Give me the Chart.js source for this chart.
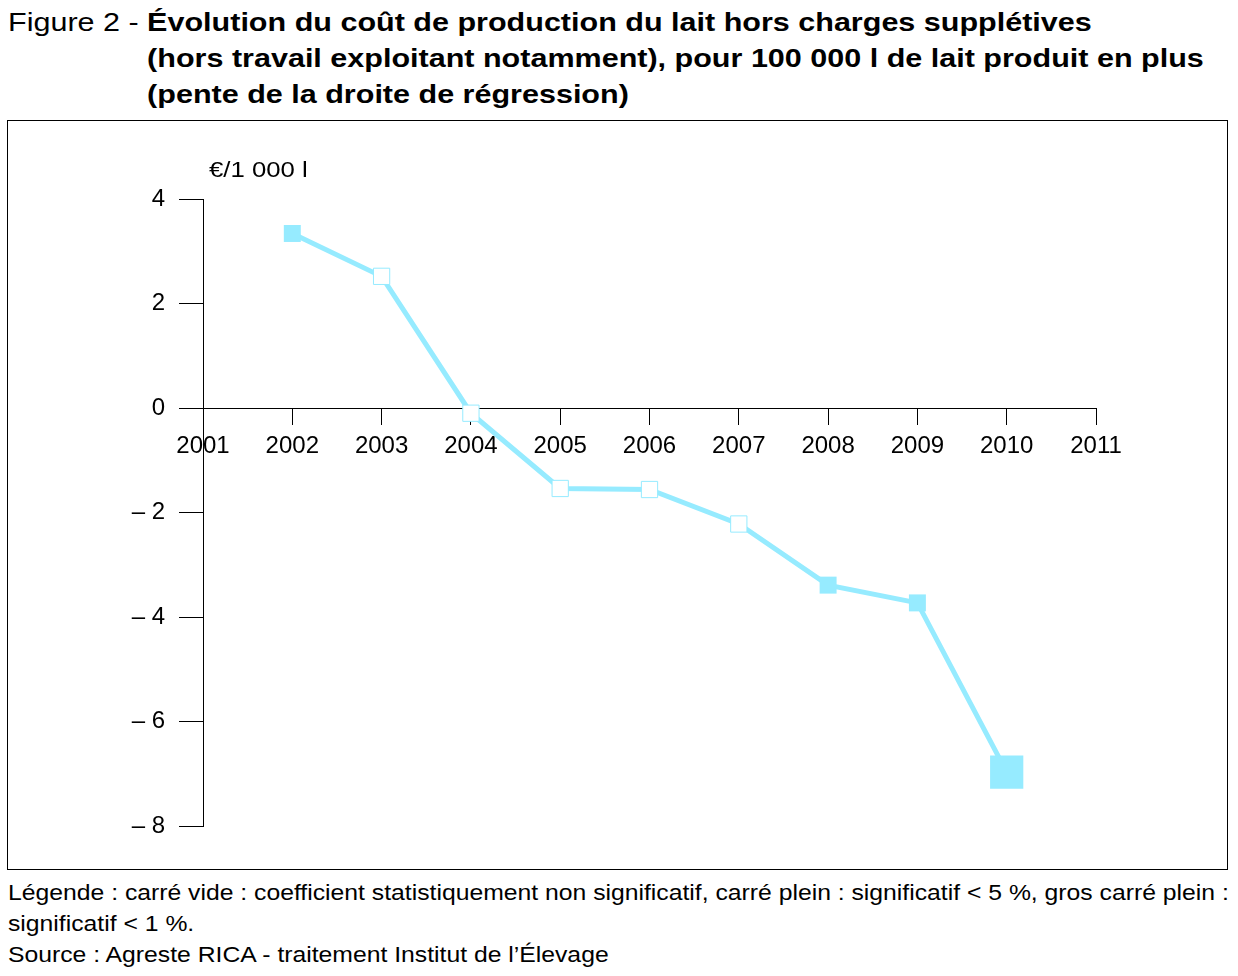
<!DOCTYPE html>
<html lang="fr">
<head>
<meta charset="utf-8">
<title>Figure 2</title>
<script src="https://cdn.jsdelivr.net/npm/chart.js@4/dist/chart.umd.min.js"></script>
<style>
    body { margin:0; background:#fff; font-family:"Liberation Sans", Arial, sans-serif; color:#000; }
    #titleBlock { position:absolute; left:8px; top:4px; display:flex; font-size:26px; line-height:36px; white-space:nowrap;
                  transform:scaleX(1.174); transform-origin:0 0; }
    #titleBlock b { display:block; }
    #chartBox { position:absolute; left:7px; top:120px; width:1219px; height:748px; border:1px solid #000; }
    #footer { position:absolute; left:8px; top:877px; font-size:22px; line-height:31px; white-space:nowrap;
              transform:scaleX(1.124); transform-origin:0 0; }
</style>
</head>
<body>
<div id="titleBlock">
    <span>Figure 2 -&nbsp;</span>
    <b>Évolution du coût de production du lait hors charges supplétives<br>(hors travail exploitant notamment), pour 100 000 l de lait produit en plus<br>(pente de la droite de régression)</b>
</div>
<div id="chartBox"><canvas id="myChart"></canvas></div>
<div id="footer">Légende : carré vide : coefficient statistiquement non significatif, carré plein : significatif &lt; 5 %, gros carré plein :<br>significatif &lt; 1 %.<br>Source : Agreste RICA - traitement Institut de l’Élevage</div>

<script>
document.addEventListener('DOMContentLoaded', createChart);

// data
let years = [2002, 2003, 2004, 2005, 2006, 2007, 2008, 2009, 2010];
let slopes = [3.34, 2.52, -0.10, -1.54, -1.56, -2.22, -3.39, -3.73, -6.97];
// 0 = carré vide, 1 = carré plein (< 5 %), 2 = gros carré plein (< 1 %)
let significance = [1, 0, 0, 0, 0, 0, 1, 1, 2];
let xTicks = [2001, 2002, 2003, 2004, 2005, 2006, 2007, 2008, 2009, 2010, 2011];
let yTicks = [-8, -6, -4, -2, 0, 2, 4];
let unitLabel = '€/1 000 l';

let cyan = 'rgb(150,235,255)';

function minusLabel(v){
    if (v < 0) return '\u2013 ' + Math.abs(v);
    return String(v);
}

let unitPlugin = {
    id: 'unitLabel',
    afterDraw(chart){
        let ctx = chart.ctx;
        let y = chart.scales.y;
        ctx.save();
        ctx.translate(chart.chartArea.left + 6, y.getPixelForValue(4) - 28);
        ctx.scale(1.17, 1);
        ctx.font = '22px "Liberation Sans", Arial, sans-serif';
        ctx.fillStyle = '#000';
        ctx.textBaseline = 'middle';
        ctx.fillText(unitLabel, 0, 0);
        ctx.restore();
    }
};

function createChart(){
    let points = years.map((yr, i) => ({x: yr, y: slopes[i]}));
    let fills = significance.map(s => s === 0 ? '#fff' : cyan);
    let radii = significance.map(s => s === 2 ? 23.5 : (s === 1 ? 12 : 11.5));
    let borders = significance.map(s => s === 0 ? 1 : 0);

    let data = {
        datasets:[{
            data: points,
            borderColor: cyan,
            borderWidth: 5,
            pointStyle: 'rect',
            pointBackgroundColor: fills,
            pointBorderColor: cyan,
            pointBorderWidth: borders,
            pointRadius: radii,
            tension: 0
        }]
    };

    let config = {
        type: 'line',
        data: data,
        plugins: [unitPlugin],
        options: {
            animation: false,
            responsive: true,
            maintainAspectRatio: false,
            layout: { padding: { left: 115, right: 131, top: 78, bottom: 43 } },
            plugins: { legend: { display: false }, tooltip: { enabled: false } },
            scales: {
                x: {
                    type: 'linear',
                    position: { y: 0 },
                    min: 2001,
                    max: 2011,
                    afterBuildTicks(scale){ scale.ticks = xTicks.map(v => ({value: v})); },
                    grid: { drawOnChartArea: false, tickLength: 16, color: '#000' },
                    border: { color: '#000', width: 1 },
                    ticks: {
                        color: '#000',
                        padding: 8,
                        font: { family: '"Liberation Sans", Arial, sans-serif', size: 24 },
                        callback: v => String(v)
                    }
                },
                y: {
                    min: -8,
                    max: 4,
                    afterBuildTicks(scale){ scale.ticks = yTicks.map(v => ({value: v})); },
                    afterFit(scale){ scale.width = 80; },
                    grid: { drawOnChartArea: false, tickLength: 24, color: '#000' },
                    border: { color: '#000', width: 1 },
                    ticks: {
                        color: '#000',
                        padding: 14,
                        font: { family: '"Liberation Sans", Arial, sans-serif', size: 24 },
                        callback: v => minusLabel(v)
                    }
                }
            }
        }
    };
    new Chart(document.getElementById('myChart'), config);
}
</script>
</body>
</html>
